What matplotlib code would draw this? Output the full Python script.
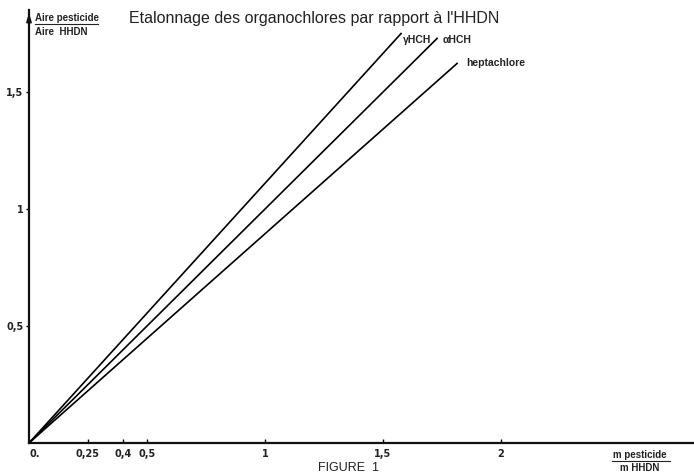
import matplotlib
matplotlib.use("Agg")
import matplotlib.pyplot as plt

# Data (ratio of masses -> ratio of areas), straight calibration lines from origin
series_names = ["γHCH", "αHCH", "heptachlore"]
x_end = [1.58, 1.733, 1.818]
y_end = [1.752, 1.731, 1.624]

x_ticks = [0, 0.25, 0.4, 0.5, 1, 1.5, 2]
x_ticklabels = ["0.", "0,25", "0,4", "0,5", "1", "1,5", "2"]
y_ticks = [0.5, 1, 1.5]
y_ticklabels = ["0,5", "1", "1,5"]

W, H = 694, 475
fig = plt.figure(figsize=(W / 100, H / 100), dpi=100)
x0, y0 = 29, 443
x1, y1 = 694, 10
ax = fig.add_axes([x0 / W, (H - y0) / H, (x1 - x0) / W, (y0 - y1) / H])
ax.set_xlim(0, 2.82)
ax.set_ylim(0, 1.85)

for xe, ye in zip(x_end, y_end):
    ax.plot([0, xe], [0, ye], color="black", lw=1.2, solid_capstyle="butt")

for s in ["top", "right"]:
    ax.spines[s].set_visible(False)
for s in ["left", "bottom"]:
    ax.spines[s].set_linewidth(1.6)
    ax.spines[s].set_color("#111111")

# arrow at top of y axis
ax.annotate("", xy=(0, 1.85), xytext=(0, 1.78), xycoords="data",
            arrowprops=dict(arrowstyle="-|>,head_width=0.15,head_length=0.5",
                            color="#111111", lw=1.2), annotation_clip=False)

ax.set_xticks(x_ticks)
ax.set_xticklabels(x_ticklabels, fontsize=7, fontweight="bold", color="#222222")
ax.set_yticks(y_ticks)
ax.set_yticklabels(y_ticklabels, fontsize=7, fontweight="bold", color="#222222")
ax.tick_params(axis="x", direction="in", length=3, width=1, pad=4)
ax.tick_params(axis="y", direction="out", length=2, width=1, pad=2)
for lbl in ax.get_xticklabels():
    lbl.set_horizontalalignment("center")
ax.get_xticklabels()[0].set_horizontalalignment("left")

fam = ["Liberation Sans", "DejaVu Sans"]
# Title
fig.text(314 / W, 1 - 19 / H, "Etalonnage des organochlores par rapport à l'HHDN",
         ha="center", va="center", fontsize=11.5, family=fam, color="#222222")

# y-axis label fraction
fig.text(35 / W, 1 - 18 / H, "Aire pesticide", ha="left", va="center",
         fontsize=7, fontweight="bold", family=fam, color="#222222")
fig.add_artist(plt.Line2D([35 / W, 98 / W], [1 - 24 / H, 1 - 24 / H],
                          color="#222222", lw=0.8))
fig.text(35 / W, 1 - 32 / H, "Aire  HHDN", ha="left", va="center",
         fontsize=7, fontweight="bold", family=fam, color="#222222")

# x-axis label fraction
fig.text(640 / W, 1 - 455 / H, "m pesticide", ha="center", va="center",
         fontsize=7, fontweight="bold", family=fam, color="#222222")
fig.add_artist(plt.Line2D([612 / W, 670 / W], [1 - 461 / H, 1 - 461 / H],
                          color="#222222", lw=0.8))
fig.text(640 / W, 1 - 468 / H, "m HHDN", ha="center", va="center",
         fontsize=7, fontweight="bold", family=fam, color="#222222")

# Figure caption
fig.text(348 / W, 1 / H, "FIGURE  1", ha="center", va="bottom",
         fontsize=9, family=fam, color="#222222")

# line labels
ax.annotate(series_names[0], xy=(x_end[0], y_end[0]), xytext=(1.585, 1.72),
            fontsize=7.5, fontweight="bold", family=fam, color="#222222",
            ha="left", va="center", annotation_clip=False)
ax.annotate(series_names[1], xy=(x_end[1], y_end[1]), xytext=(1.755, 1.72),
            fontsize=7.5, fontweight="bold", family=fam, color="#222222",
            ha="left", va="center", annotation_clip=False)
ax.annotate(series_names[2], xy=(x_end[2], y_end[2]), xytext=(1.855, 1.625),
            fontsize=7.5, fontweight="bold", family=fam, color="#222222",
            ha="left", va="center", annotation_clip=False)

fig.savefig("out.png", dpi=100)
